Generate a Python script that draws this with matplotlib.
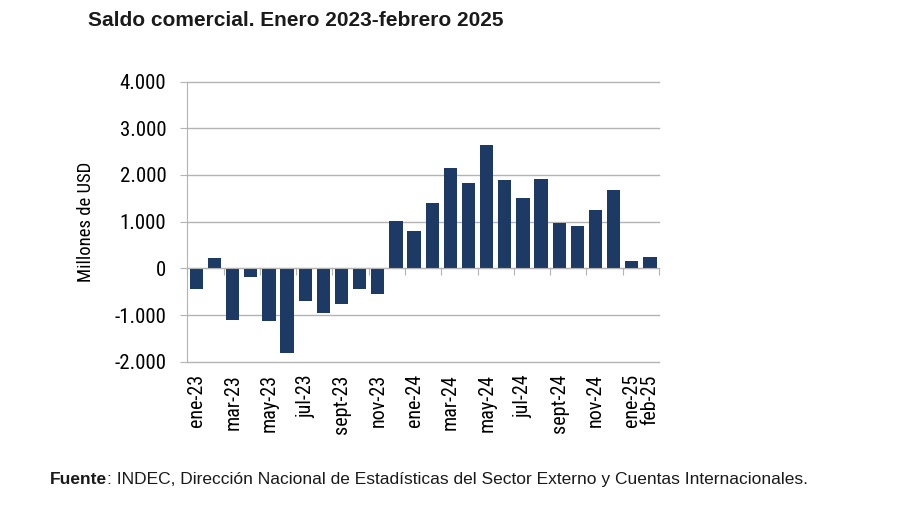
import matplotlib
matplotlib.use("Agg")
import matplotlib.pyplot as plt
import numpy as np
from matplotlib import font_manager
from matplotlib.ticker import FuncFormatter

months = ["ene-23", "feb-23", "mar-23", "abr-23", "may-23", "jun-23", "jul-23",
          "ago-23", "sept-23", "oct-23", "nov-23", "dic-23", "ene-24", "feb-24",
          "mar-24", "abr-24", "may-24", "jun-24", "jul-24", "ago-24", "sept-24",
          "oct-24", "nov-24", "dic-24", "ene-25", "feb-25"]
saldo = [-440, 220, -1100, -190, -1120, -1820, -690, -960, -760, -440, -560,
         1020, 790, 1410, 2150, 1820, 2650, 1890, 1510, 1910, 980, 910,
         1260, 1670, 160, 240]
shown = ["ene-23", "mar-23", "may-23", "jul-23", "sept-23", "nov-23", "ene-24",
         "mar-24", "may-24", "jul-24", "sept-24", "nov-24", "ene-25", "feb-25"]
yticks = [-2000, -1000, 0, 1000, 2000, 3000, 4000]

navy = "#1c3a64"
grey = "#b3b3b3"
installed = {f.name for f in font_manager.fontManager.ttflist}
narrow = [f for f in ["Liberation Sans Narrow", "Roboto Condensed", "Arial Narrow"] if f in installed]
fam = narrow + ["Liberation Sans", "DejaVu Sans"]
base = ["Liberation Sans", "DejaVu Sans"]
size_k = 1.0 if narrow else 0.9

fig = plt.figure(figsize=(9, 5.05), dpi=100)
ax = fig.add_axes([0.2081, 0.2838, 0.5241, 0.5545])

x = np.arange(len(months))
ax.bar(x, saldo, width=0.73, color=navy, zorder=3)

ax.set_xlim(-0.5, len(months) - 0.5)
ax.set_ylim(yticks[0], yticks[-1])
ax.set_yticks(yticks)
ax.yaxis.set_major_formatter(FuncFormatter(lambda v, p: f"{int(v):,}".replace(",", ".")))
# gridlines drawn by hand so the one on the lower edge is not lost
for yv in yticks:
    ax.axhline(yv, color=grey, linewidth=1, zorder=0, clip_on=False)
ax.tick_params(axis="y", length=5, color=grey, pad=10, labelsize=15 * size_k)
for lab in ax.get_yticklabels():
    lab.set_family(fam)

for s in ["top", "right"]:
    ax.spines[s].set_visible(False)
ax.spines["left"].set_color(grey)
ax.spines["bottom"].set_position(("data", 0))
ax.spines["bottom"].set_color(grey)
ax.spines["bottom"].set_zorder(4)
ax.set_xticks(np.arange(-0.5, len(months), 2))
ax.tick_params(axis="x", length=5, color=grey, labelbottom=False)

# month labels sit at the bottom of the frame, tick marks stay on the zero line
sec = ax.secondary_xaxis("bottom")
pos = [months.index(m) for m in shown]
sec.set_xticks(pos, shown, rotation=90, fontsize=14.5 * size_k, family=fam)
sec.tick_params(length=0, pad=9)
for sp in sec.spines.values():
    sp.set_visible(False)
sec.patch.set_visible(False)

ax.set_ylabel("Millones de USD", fontsize=13.5 * size_k, family=fam)
ax.yaxis.set_label_coords(-0.196, 0.5)

fig.text(88 / 900, 1 - 20 / 505, "Saldo comercial. Enero 2023-febrero 2025",
         fontsize=15, fontweight="bold", family=base, va="center", ha="left",
         color="#1a1a1a")

t = fig.text(50 / 900, 1 - 484 / 505, "Fuente", fontsize=12.5, fontweight="bold",
             family=base, va="baseline", ha="left", color="#1a1a1a")
fig.canvas.draw()
bb = t.get_window_extent()
fig.text(bb.x1 / fig.bbox.width, 1 - 484 / 505,
         ": INDEC, Dirección Nacional de Estadísticas del Sector Externo y Cuentas Internacionales.",
         fontsize=12.5, family=base, va="baseline", ha="left", color="#1a1a1a")

fig.savefig("out.png", dpi=100)
